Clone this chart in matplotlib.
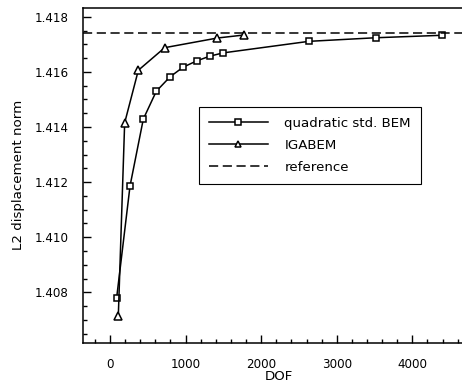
import matplotlib
matplotlib.use("Agg")
import matplotlib.pyplot as plt
from matplotlib.ticker import MultipleLocator, FormatStrFormatter

# quadratic standard BEM
dof_bem = [88, 265, 441, 613, 794, 966, 1147, 1319, 1495, 2633, 3515, 4393]
norm_bem = [1.40780, 1.41186, 1.41429, 1.41530, 1.41582, 1.41617,
            1.41640, 1.41657, 1.41669, 1.41711, 1.41724, 1.41733]

# IGABEM
dof_iga = [110, 194, 375, 724, 1420, 1773]
norm_iga = [1.40714, 1.41415, 1.41606, 1.41688, 1.41723, 1.41734]

ref_value = 1.41740

plt.rcParams['font.family'] = ['DejaVu Sans']
plt.rcParams['font.size'] = 9.6

fig = plt.figure(figsize=(4.62, 3.85), dpi=100)
# axes runs past the right border of the figure, like the cropped original
ax = fig.add_axes([82.7 / 462, (385 - 342.7) / 385, (475 - 82.7) / 462, (342.7 - 8) / 385])

ax.plot(dof_bem, norm_bem, color='black', lw=1.1, marker='s', markersize=4.6,
        markerfacecolor='white', markeredgecolor='black', markeredgewidth=1.1,
        label='quadratic std. BEM')
ax.plot(dof_iga, norm_iga, color='black', lw=1.1, marker='^', markersize=5.5,
        markerfacecolor='white', markeredgecolor='black', markeredgewidth=1.1,
        label='IGABEM')
ax.axhline(ref_value, color='black', lw=1.1, ls=(0, (6, 3)), label='reference')

x_per_px = 1000 / 75.58
ax.set_xlim(-(110 - 82.7) * x_per_px, (475 - 110) * x_per_px)
ax.set_ylim(1.40617, 1.41832)

ax.xaxis.set_major_locator(MultipleLocator(1000))
ax.xaxis.set_minor_locator(MultipleLocator(200))
ax.yaxis.set_major_locator(MultipleLocator(0.002))
ax.yaxis.set_minor_locator(MultipleLocator(0.0005))
ax.yaxis.set_major_formatter(FormatStrFormatter('%.3f'))

ax.tick_params(which='both', direction='in', top=False, right=False, width=1,
               labelsize=8.6)
ax.tick_params(which='major', length=6)
ax.tick_params(axis='x', which='major', pad=11)
ax.tick_params(axis='y', which='major', pad=10)
ax.tick_params(which='minor', length=3)
ax.spines['right'].set_visible(False)
for s in ['left', 'bottom', 'top']:
    ax.spines[s].set_linewidth(1.1)

ax.set_xlabel('DOF', labelpad=-1)
ax.set_ylabel('L2 displacement norm', labelpad=7)

leg = ax.legend(loc='upper left', bbox_to_anchor=(0.2965, 0.7042), borderaxespad=0,
                handlelength=4.4, handletextpad=1.25, labelspacing=0.66, borderpad=0.75,
                markerscale=0.8, fancybox=False, framealpha=1, edgecolor='black')
leg.get_frame().set_linewidth(0.8)

fig.savefig('out.png', dpi=100)
